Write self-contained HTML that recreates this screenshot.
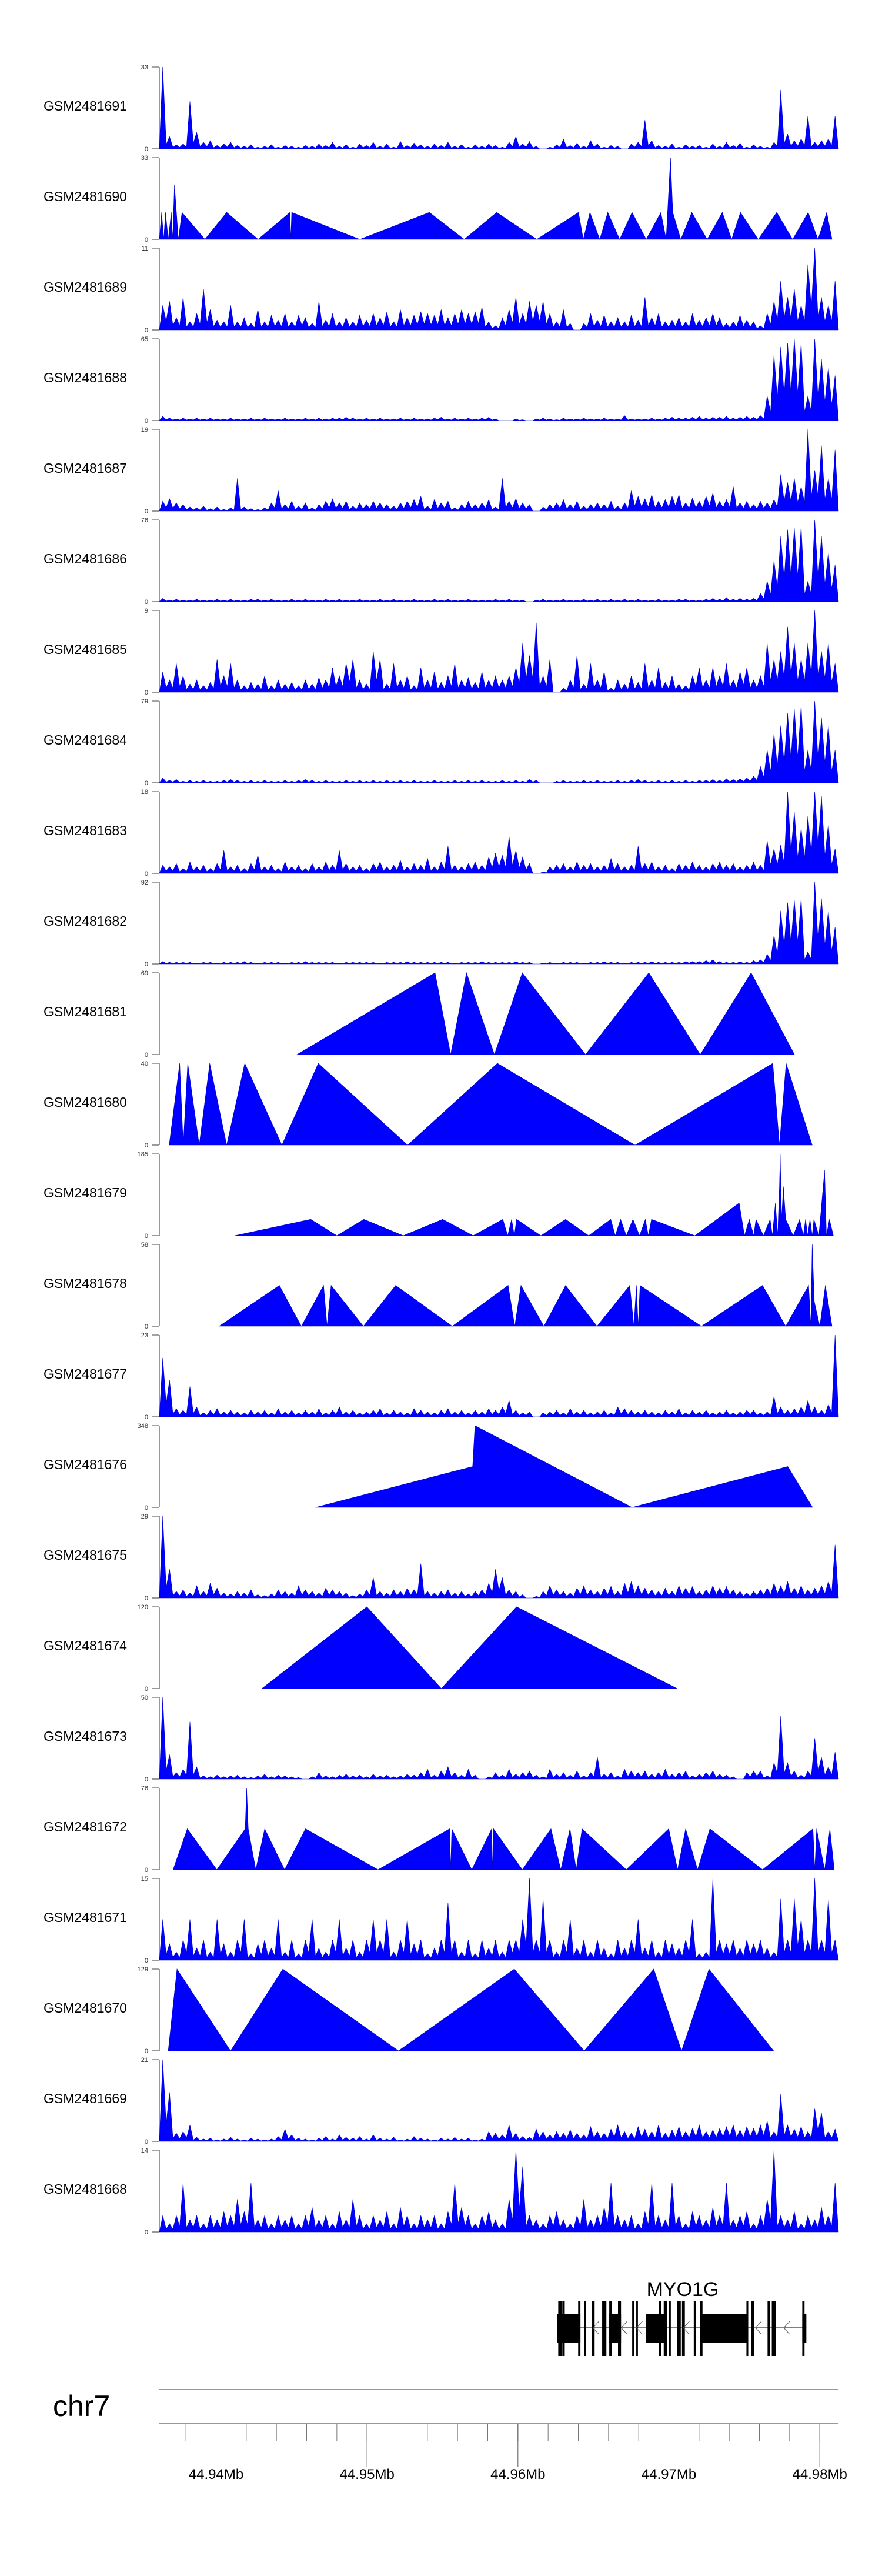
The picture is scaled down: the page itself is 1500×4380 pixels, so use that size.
<!DOCTYPE html>
<html><head><meta charset="utf-8"><style>
html,body{margin:0;padding:0;background:#fff;}
svg{display:block;font-family:"Liberation Sans",Arial,sans-serif;}
</style></head>
<body>
<svg id="chart" xmlns="http://www.w3.org/2000/svg" width="1500" height="4380" viewBox="0 0 1500 4380"></svg>
<script>
// ---- data ----
const regionStartKb = 44936.24;
const regionEndKb = 44981.24;
const sampleNames = ["GSM2481691","GSM2481690","GSM2481689","GSM2481688","GSM2481687","GSM2481686","GSM2481685","GSM2481684","GSM2481683","GSM2481682","GSM2481681","GSM2481680","GSM2481679","GSM2481678","GSM2481677","GSM2481676","GSM2481675","GSM2481674","GSM2481673","GSM2481672","GSM2481671","GSM2481670","GSM2481669","GSM2481668"];
const yMaxLabels = [33,33,11,65,19,76,9,79,18,92,69,40,185,58,23,348,29,120,50,76,15,129,21,14];
const axisTickMb = [44.94,44.95,44.96,44.97,44.98];
const minorTickKb = [44938,44940,44942,44944,44946,44948,44950,44952,44954,44956,44958,44960,44962,44964,44966,44968,44970,44972,44974,44976,44978,44980];

// binned coverage (% of track max), evenly spaced bins over the region
const cov1691 = [100,15,5,6,58,20,8,10,4,6,8,4,3,5,2,3,5,2,4,3,2,4,3,6,4,8,3,5,2,6,4,8,3,6,2,9,4,7,5,3,6,4,8,3,5,2,5,3,6,4,2,8,15,6,9,3,0,2,5,12,4,7,3,10,6,2,4,3,0,6,8,35,10,4,3,6,2,5,3,4,2,6,3,8,4,7,2,5,3,2,8,72,18,10,12,40,8,10,12,40];
const cov1689 = [30,35,15,40,10,20,50,25,12,10,30,10,15,8,25,10,18,12,20,10,18,15,8,35,12,20,10,15,10,18,12,20,15,22,10,25,15,18,22,20,18,25,15,20,25,20,22,28,10,5,15,25,40,20,35,30,35,20,10,25,8,0,8,20,12,18,10,15,10,18,12,40,15,20,10,12,15,10,20,12,15,20,15,8,10,18,12,10,5,20,35,60,40,50,30,80,100,40,30,60];
const cov1688 = [5,3,2,3,2,3,2,3,2,2,3,2,2,3,2,3,2,2,3,2,2,3,2,3,2,3,3,4,3,2,3,2,3,2,2,3,2,3,2,2,3,4,2,3,2,3,2,3,4,2,0,0,2,1,0,2,3,2,1,3,2,2,3,2,2,3,2,2,6,2,2,2,3,2,3,4,3,3,4,5,3,4,4,5,3,4,5,4,6,30,80,90,95,100,95,30,100,75,65,55];
const cov1687 = [12,15,10,8,5,4,6,3,5,2,4,40,5,3,2,4,10,25,8,12,6,10,4,8,12,15,10,12,6,10,8,12,10,8,6,10,12,14,18,6,14,10,12,4,8,12,8,10,14,5,40,12,15,10,8,0,5,8,10,14,8,12,6,8,10,8,12,6,10,25,18,15,20,12,14,18,20,10,16,12,18,22,12,14,30,10,12,8,12,10,14,45,35,40,30,100,50,80,40,75];
const cov1686 = [4,2,3,2,2,3,2,2,3,2,3,2,2,3,3,2,3,2,2,3,2,3,2,2,3,2,3,2,2,3,2,2,3,2,3,2,2,3,2,2,3,2,3,2,2,3,2,2,2,3,2,3,2,2,0,2,3,2,2,3,2,2,3,2,3,2,3,2,3,2,3,2,2,3,2,2,3,3,2,2,3,4,3,5,3,4,3,4,10,25,50,80,88,90,92,25,100,80,60,45];
const cov1685 = [25,15,35,20,10,15,8,12,40,20,35,15,8,12,10,20,8,15,10,12,8,15,10,18,15,30,20,35,40,15,10,50,40,10,35,15,20,8,30,15,25,12,20,35,15,18,12,25,15,20,15,20,30,60,45,85,20,40,0,5,15,45,10,35,15,25,5,15,10,20,12,35,15,30,12,20,10,8,20,30,15,30,20,35,15,25,30,15,20,60,40,50,80,60,40,60,100,50,60,35];
const cov1684 = [6,3,4,2,3,2,3,2,2,3,4,3,2,3,2,3,2,2,3,2,3,4,3,2,3,2,2,3,2,3,2,3,2,3,2,3,2,3,2,2,3,2,2,3,2,3,2,3,2,2,3,2,3,2,4,3,0,0,2,3,2,2,3,2,3,2,2,3,2,3,4,3,2,3,2,3,2,3,2,3,3,4,3,5,4,5,6,8,20,40,60,70,85,90,95,40,100,80,70,40];
const cov1683 = [10,8,12,6,14,8,10,6,12,28,8,10,6,12,22,8,10,6,14,8,10,6,12,8,14,10,28,12,8,10,6,12,14,8,10,16,8,12,10,18,8,14,33,10,8,12,14,10,20,25,22,45,28,20,12,0,2,8,10,12,8,14,10,12,8,10,18,12,8,10,33,12,14,8,10,6,12,10,14,10,8,12,14,10,12,8,10,14,10,40,30,35,100,75,55,70,100,95,60,30];
const cov1682 = [3,2,2,2,2,1,2,2,1,2,2,2,3,2,1,2,2,2,1,2,2,3,2,2,2,2,1,2,2,2,2,2,1,2,2,2,3,2,2,2,2,2,2,1,2,2,2,3,2,2,2,2,3,2,2,0,1,2,1,2,2,2,1,2,2,3,2,2,1,2,2,2,3,2,2,2,2,3,3,3,4,5,3,2,2,3,2,4,5,12,35,65,75,78,80,15,100,80,65,45];
const cov1677 = [72,45,10,8,37,12,5,8,10,6,8,6,5,8,6,8,5,10,6,8,5,8,6,10,5,8,12,6,8,5,6,8,10,5,8,6,5,10,8,6,5,8,10,6,8,5,8,6,10,8,12,20,8,5,6,0,5,6,8,5,10,6,8,5,6,8,5,12,10,8,6,8,6,5,8,6,10,5,8,6,8,5,6,8,5,6,8,8,5,6,25,12,8,10,12,20,12,8,15,100];
const cov1675 = [100,35,8,10,6,15,8,18,12,6,5,8,6,10,4,3,5,10,8,6,15,10,8,6,12,10,8,6,3,5,10,25,8,6,10,8,12,10,42,8,6,8,10,6,8,5,8,10,18,35,25,10,8,4,0,2,8,15,10,8,6,12,15,10,8,12,14,8,18,20,15,12,10,8,12,8,15,12,14,8,10,15,12,14,10,8,6,8,10,12,18,15,20,12,15,10,12,15,20,65];
const cov1673 = [100,30,8,12,70,15,4,3,5,3,4,5,3,2,4,6,3,5,4,3,2,0,3,8,4,3,5,6,4,5,3,6,4,5,3,4,6,5,8,12,5,10,15,8,5,12,5,0,3,8,5,12,6,8,10,5,3,12,6,8,5,10,4,8,27,6,8,4,12,10,8,10,6,8,12,6,8,10,4,6,8,10,6,5,3,0,8,10,10,4,20,77,20,10,5,10,50,27,15,33];
const cov1671 = [50,20,10,25,50,15,25,10,50,20,10,25,50,8,20,25,15,50,10,25,8,25,50,15,10,25,50,15,25,10,25,50,25,50,10,25,50,20,25,8,15,25,70,25,10,25,8,25,15,25,10,25,25,50,100,25,75,25,10,25,50,15,25,10,25,15,8,25,15,25,50,15,25,10,25,20,15,25,50,8,10,100,25,20,25,15,25,20,25,15,10,75,25,75,50,25,100,25,75,25];
const cov1669 = [100,60,10,12,20,5,3,4,2,3,5,3,2,4,3,2,3,6,15,8,4,3,2,4,6,3,8,5,4,6,3,8,4,3,5,2,3,6,4,3,2,4,3,5,3,4,2,3,12,10,8,20,10,6,5,15,12,8,12,10,14,10,8,18,12,10,15,20,12,10,18,15,12,20,10,14,18,12,16,20,12,14,16,18,20,14,18,16,20,25,12,58,20,15,18,12,40,35,12,15];
const cov1668 = [20,10,20,60,15,20,10,20,15,25,20,40,25,60,15,20,10,20,15,20,10,20,30,15,20,10,25,15,40,20,10,20,15,25,10,30,20,10,20,15,20,10,25,60,30,20,10,20,25,15,10,40,100,80,20,15,10,20,25,15,10,20,40,15,20,30,60,20,15,20,10,25,60,20,15,60,20,10,25,20,15,30,20,60,15,20,25,10,20,40,100,20,15,25,10,20,15,30,20,60];

// sparse tracks: vertex positions (kb from region start) and heights (% of track max)
const pos1690 = [0,.15,.29,.41,.59,.79,.88,1.0,1.26,1.5,3.02,4.46,6.54,8.65,8.71,8.77,13.28,17.89,20.2,22.35,25.01,27.77,28.09,28.53,29.18,29.71,30.5,31.32,32.26,33.23,33.58,33.87,34.02,34.55,35.28,36.3,37.3,37.92,38.5,39.68,40.91,41.96,42.99,43.64,44.22,44.57];
const val1690 = [0,33,0,33,0,33,0,67,0,33,0,33,0,33,0,33,0,33,0,33,0,33,0,33,0,33,0,33,0,33,0,100,33,0,33,0,33,0,33,0,33,0,33,0,33,0];
const pos1681 = [9.12,18.27,19.3,20.35,22.2,24.05,28.24,32.43,35.84,39.21,42.08];
const val1681 = [0,100,0,100,0,100,0,100,0,100,0];
const pos1680 = [.65,1.35,1.58,1.88,2.64,3.34,4.46,5.66,8.12,10.53,16.45,22.4,31.52,40.65,41.09,41.53,43.26];
const val1680 = [0,100,0,100,0,100,0,100,0,100,0,100,0,100,0,100,0];
const pos1679 = [4.99,10.03,11.76,13.55,16.16,18.77,20.79,22.76,23.08,23.34,23.52,23.67,25.28,26.92,28.45,29.91,30.21,30.56,30.94,31.38,31.82,32.2,32.4,32.61,35.48,38.42,38.77,39.09,39.38,39.53,40.03,40.47,40.62,40.82,40.97,41.09,41.14,41.23,41.35,41.5,42.0,42.43,42.67,42.82,42.96,43.11,43.26,43.37,43.7,44.08,44.2,44.4,44.66];
const val1679 = [0,20,0,20,0,20,0,20,0,20,0,20,0,20,0,20,0,20,0,20,0,20,0,20,0,40,0,20,0,20,0,20,0,40,0,60,100,20,60,20,0,20,0,20,0,20,0,20,0,80,0,20,0];
const pos1678 = [3.96,7.95,9.41,10.88,11.11,11.38,13.52,15.66,19.41,23.11,23.55,23.96,25.48,26.92,29.0,31.17,31.44,31.61,31.73,31.85,35.92,39.97,41.5,43.02,43.17,43.26,43.4,43.76,44.13,44.57];
const val1678 = [0,50,0,50,0,50,0,50,0,50,0,50,0,50,0,50,0,50,0,50,0,50,0,50,0,100,30,0,50,0];
const pos1676 = [10.35,20.76,20.91,31.32,41.64,43.28];
const val1676 = [0,50,100,0,50,0];
const pos1674 = [6.8,13.75,18.68,23.67,34.31];
const val1674 = [0,100,0,100,0];
const pos1672 = [.91,1.85,3.81,5.69,5.78,5.89,6.39,6.98,8.3,9.68,14.49,19.24,19.3,19.38,20.7,22.02,22.08,22.14,24.05,25.95,26.6,27.21,27.62,28.01,30.94,33.75,34.34,34.87,35.66,36.48,39.97,43.31,43.43,43.55,44.08,44.43,44.72];
const val1672 = [0,50,0,50,100,50,0,50,0,50,0,50,0,50,0,50,0,50,0,50,0,50,0,50,0,50,0,50,0,50,0,50,0,50,0,50,0];
const pos1670 = [.59,1.17,4.72,8.18,15.84,23.52,28.15,32.76,34.6,36.42,40.7];
const val1670 = [0,100,0,100,0,100,0,100,0,100,0];

// gene model (kb from region start)
const exonStart = [26.43,26.70,27.75,28.14,28.64,29.34,29.81,30.39,31.33,31.60,33.11,33.42,33.77,34.32,34.63,35.41,35.83,38.90,39.21,40.30,40.58,42.60];
const exonEnd   = [26.66,26.86,27.90,28.25,28.84,29.62,30.00,30.59,31.48,31.71,33.27,33.66,33.89,34.55,34.82,35.56,35.99,39.02,39.41,40.46,40.85,42.75];
const blockStart = [26.35,29.81,32.26,35.95,42.60];
const blockEnd   = [27.90,30.59,33.58,38.98,42.87];
const strandArrowKb = [28.93,30.80,31.81,34.92,39.70,41.57];

const trackBins = {0:cov1691,2:cov1689,3:cov1688,4:cov1687,5:cov1686,6:cov1685,7:cov1684,8:cov1683,9:cov1682,14:cov1677,16:cov1675,18:cov1673,20:cov1671,22:cov1669,23:cov1668};
const trackPos = {1:pos1690,10:pos1681,11:pos1680,12:pos1679,13:pos1678,15:pos1676,17:pos1674,19:pos1672,21:pos1670};
const trackVal = {1:val1690,10:val1681,11:val1680,12:val1679,13:val1678,15:val1676,17:val1674,19:val1672,21:val1670};

// ---- layout ----
const NS = "http://www.w3.org/2000/svg";
const svg = document.getElementById("chart");
const plotLeft = 271, plotRight = 1426;
const firstTop = 114, pitch = 154, trackH = 139;
const span = regionEndKb - regionStartKb;
function xOff(kb){ return plotLeft + kb / span * (plotRight - plotLeft); }
function xAbs(kb){ return xOff(kb - regionStartKb); }
function mk(tag, attrs, parent){
  const e = document.createElementNS(NS, tag);
  for (const k in attrs) e.setAttribute(k, attrs[k]);
  (parent || svg).appendChild(e);
  return e;
}

for (let i = 0; i < sampleNames.length; i++) {
  const top = firstTop + i * pitch, base = top + trackH;
  const yv = v => base - v / 100 * trackH;
  const g = mk("g", {});
  
  
  const lab = mk("text", {x: 74, y: top + trackH/2 + 4.5, "font-size": 23, fill: "#000"}, g);
  lab.textContent = sampleNames[i];
  
  
  const ax = mk("line", {x1: plotLeft, x2: plotLeft, y1: top, y2: base, stroke: "#999", "stroke-width": 2}, g);
  
  
  mk("line", {x1: 258, x2: plotLeft, y1: top, y2: top, stroke: "#666", "stroke-width": 1.2}, g);
  mk("line", {x1: 258, x2: plotLeft, y1: base, y2: base, stroke: "#999", "stroke-width": 2}, g);
  const tmax = mk("text", {x: 252, y: top + 4, "font-size": 11, "text-anchor": "end", fill: "#333"}, g);
  tmax.textContent = yMaxLabels[i];
  
  
  const tmin = mk("text", {x: 252, y: base + 4, "font-size": 11, "text-anchor": "end", fill: "#333"}, g);
  tmin.textContent = "0";
  
  

  let pts = [];
  if (trackBins[i]) {
    const vals = trackBins[i], bw = span / vals.length;
    pts.push([xOff(0), base]);
    vals.forEach((v, j) => {
      pts.push([xOff((j + 0.5) * bw), yv(v)]);
      if (j < vals.length - 1) {
        const dip = Math.min(v, vals[j+1]) * 0.35;
        pts.push([xOff((j + 1) * bw), yv(dip)]);
      }
    });
    pts.push([xOff(span), base]);
  } else {
    const p = trackPos[i], v = trackVal[i];
    pts.push([xOff(p[0]), base]);
    p.forEach((k, j) => pts.push([xOff(k), yv(v[j])]));
    pts.push([xOff(p[p.length-1]), base]);
  }
  const poly = mk("polygon", {points: pts.map(q => q[0].toFixed(1) + "," + q[1].toFixed(1)).join(" "), fill: "#0000FF", stroke: "#0000CC", "stroke-width": 0.6}, g);
  
  
}

// gene track
const gg = mk("g", {});


const gname = mk("text", {x: 1161, y: 3904, "font-size": 34, "text-anchor": "middle", fill: "#000"}, gg);
gname.textContent = "MYO1G";


mk("line", {x1: xOff(blockStart[0]), x2: xOff(blockEnd[blockEnd.length-1]), y1: 3958, y2: 3958, stroke: "#333", "stroke-width": 1.3}, gg);
for (let j = 0; j < exonStart.length; j++) {
  const r = mk("rect", {x: xOff(exonStart[j]), y: 3912, width: Math.max(2, xOff(exonEnd[j]) - xOff(exonStart[j])), height: 94, fill: "#000"}, gg);
  
  
}
for (let j = 0; j < blockStart.length; j++) {
  const r = mk("rect", {x: xOff(blockStart[j]), y: 3935, width: xOff(blockEnd[j]) - xOff(blockStart[j]), height: 48, fill: "#000"}, gg);
  
  
}
strandArrowKb.forEach(k => {
  const x = xOff(k);
  const a = mk("polyline", {points: `${x+5},3947 ${x-5},3958 ${x+5},3969`, fill: "none", stroke: "#555", "stroke-width": 1}, gg);
  
  
});

// genome axis
const chr = mk("text", {x: 90, y: 4108, "font-size": 50, fill: "#000"});
chr.textContent = "chr7";


const l1 = mk("line", {x1: plotLeft, x2: plotRight, y1: 4063, y2: 4063, stroke: "#999", "stroke-width": 2});


const l2 = mk("line", {x1: plotLeft, x2: plotRight, y1: 4121, y2: 4121, stroke: "#999", "stroke-width": 2});


minorTickKb.forEach(k => {
  const t = mk("line", {x1: xAbs(k), x2: xAbs(k), y1: 4121, y2: 4151, stroke: "#777", "stroke-width": 1});
  
  
});
axisTickMb.forEach(m => {
  const x = xAbs(m * 1000);
  const t = mk("line", {x1: x, x2: x, y1: 4121, y2: 4195, stroke: "#555", "stroke-width": 1});
  
  
  const lb = mk("text", {x: x, y: 4215, "font-size": 24, "text-anchor": "middle", fill: "#000"});
  lb.textContent = m.toFixed(2) + "Mb";
  
  
});
</script>
</body></html>
